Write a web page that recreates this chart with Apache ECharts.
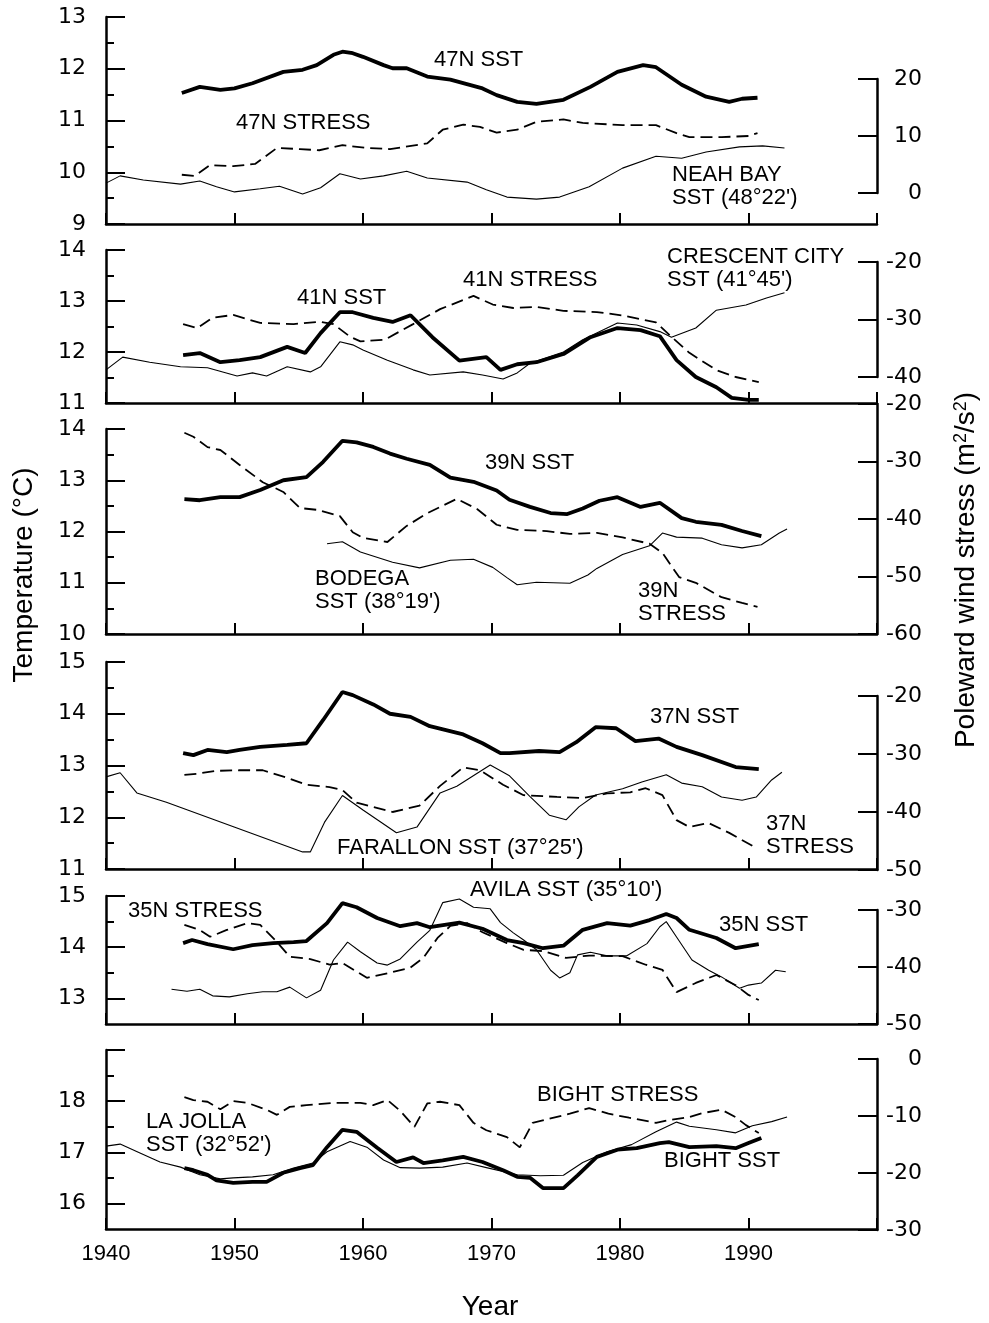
<!DOCTYPE html>
<html><head><meta charset="utf-8">
<script src="https://cdn.jsdelivr.net/npm/echarts@6/dist/echarts.min.js"></script>
<style>html,body{margin:0;padding:0;background:#fff}#c{width:989px;height:1323px}</style>
</head><body><div id="c"></div>
<script>
// ---------------- DATA (year, value) ----------------
const sst47N = [[1945.9,11.53],[1947.3,11.65],[1948.9,11.59],[1950,11.62],[1951.4,11.72],[1953.8,11.94],[1955.3,11.98],[1956.4,12.07],[1957.7,12.27],[1958.4,12.33],[1959.2,12.30],[1960,12.23],[1961.6,12.07],[1962.3,12.01],[1963.4,12.01],[1965,11.85],[1966.8,11.79],[1969.3,11.62],[1970.4,11.49],[1972,11.36],[1973.5,11.32],[1975.6,11.40],[1977.7,11.65],[1979.8,11.94],[1981.8,12.07],[1982.8,12.03],[1984.8,11.69],[1986.7,11.46],[1988.5,11.36],[1989.5,11.42],[1990.7,11.44]];
const stress47N = [[1945.9,3.2],[1946.9,3.0],[1948.1,4.9],[1949.9,4.7],[1951.6,5.1],[1953.3,7.9],[1955.1,7.7],[1956.6,7.5],[1958.4,8.4],[1960.3,7.9],[1962.1,7.7],[1965,8.7],[1966.2,11.1],[1967.8,12.0],[1969.1,11.6],[1970.4,10.6],[1972,11.1],[1973.5,12.5],[1975.6,12.9],[1977.1,12.3],[1980.2,11.9],[1982.8,11.9],[1984.4,10.5],[1985.4,9.8],[1987.9,9.8],[1990,10.0],[1990.7,10.5]];
const neahBaySST = [[1940,9.79],[1941.1,9.93],[1942.9,9.85],[1945.8,9.77],[1947.3,9.83],[1948.6,9.72],[1950,9.62],[1952,9.68],[1953.5,9.73],[1955.3,9.58],[1956.7,9.70],[1958.2,9.97],[1959.8,9.87],[1961.6,9.93],[1963.4,10.02],[1965,9.89],[1968.1,9.81],[1969.6,9.66],[1971.2,9.52],[1973.5,9.48],[1975.3,9.52],[1977.6,9.72],[1980.2,10.08],[1982.8,10.31],[1984.8,10.27],[1986.7,10.39],[1989.3,10.49],[1991.1,10.51],[1992.8,10.47]];

const sst41N = [[1946,11.94],[1947.3,11.98],[1948.9,11.80],[1950.4,11.84],[1952,11.90],[1954.1,12.10],[1955.5,11.98],[1956.7,12.37],[1958.2,12.78],[1959.2,12.78],[1960.8,12.67],[1962.3,12.59],[1963.7,12.72],[1965.4,12.29],[1967.5,11.83],[1969.6,11.90],[1970.7,11.65],[1972,11.76],[1973.5,11.80],[1975.6,11.96],[1977.7,12.29],[1979.8,12.47],[1981.6,12.43],[1983.1,12.31],[1984.4,11.84],[1985.9,11.51],[1987.5,11.31],[1988.7,11.10],[1990,11.06],[1990.8,11.06]];
const stress41N = [[1946,-30.8],[1947.1,-31.5],[1948.3,-29.7],[1949.9,-29.2],[1952,-30.6],[1954.6,-30.8],[1956.7,-30.4],[1957.7,-30.8],[1959,-33.0],[1959.8,-33.8],[1961.7,-33.5],[1963.9,-30.8],[1966,-28.2],[1968.6,-25.9],[1970.1,-27.4],[1971.7,-28.0],[1973.5,-27.8],[1975.6,-28.5],[1978.2,-28.7],[1980.2,-29.3],[1982.8,-30.5],[1984,-33.0],[1985.4,-35.8],[1987.5,-38.8],[1989,-40.0],[1990.8,-40.9]];
const crescentCitySST = [[1940,11.65],[1941.3,11.90],[1943.4,11.80],[1945.8,11.71],[1947.9,11.69],[1950.2,11.53],[1951.4,11.59],[1952.5,11.53],[1954.1,11.71],[1955.9,11.61],[1956.7,11.71],[1958.2,12.20],[1959.2,12.14],[1960,12.04],[1961.9,11.84],[1963.9,11.65],[1965.2,11.55],[1967.8,11.61],[1969.3,11.55],[1970.9,11.47],[1972,11.59],[1973,11.78],[1975.6,12.00],[1977.1,12.24],[1979.8,12.57],[1981.3,12.53],[1983.1,12.40],[1984,12.29],[1985.9,12.47],[1987.5,12.82],[1989.8,12.92],[1991.4,13.06],[1992.8,13.16]];

const sst39N = [[1946.1,12.63],[1947.3,12.61],[1948.9,12.67],[1950.4,12.67],[1952,12.81],[1953.8,13.0],[1955.6,13.06],[1956.9,13.36],[1958.4,13.77],[1959.5,13.74],[1960.8,13.65],[1962.1,13.52],[1963.4,13.42],[1965.2,13.3],[1966.8,13.05],[1968.6,12.97],[1970.4,12.8],[1971.4,12.62],[1973,12.48],[1974.6,12.36],[1975.9,12.34],[1977.1,12.45],[1978.4,12.6],[1979.8,12.67],[1981.6,12.48],[1983.1,12.56],[1984.8,12.26],[1985.9,12.19],[1987.9,12.13],[1989.5,12.01],[1991,11.91]];
const stress39N = [[1946.1,-25.0],[1946.8,-25.7],[1947.9,-27.5],[1948.9,-28.0],[1950.4,-30.6],[1952.2,-33.6],[1953.8,-35.3],[1955.1,-38.1],[1956.4,-38.4],[1958.2,-39.5],[1959.2,-42.3],[1960,-43.3],[1961.9,-44.0],[1963.4,-41.2],[1965,-39.0],[1967.3,-36.5],[1968.9,-38.3],[1970.4,-41.0],[1972,-41.9],[1974.3,-42.1],[1976.1,-42.6],[1978.2,-42.4],[1980.2,-43.2],[1982.3,-44.3],[1983.3,-45.9],[1984.6,-50.1],[1985.9,-51.1],[1987.9,-53.6],[1989.5,-54.6],[1990.7,-55.3]];
const bodegaSST = [[1957.2,11.76],[1958.4,11.80],[1959.8,11.60],[1962.3,11.40],[1964.4,11.29],[1966.8,11.44],[1968.6,11.46],[1970.1,11.30],[1971.2,11.10],[1972,10.96],[1973.5,11.01],[1976.1,10.99],[1977.5,11.15],[1978.2,11.28],[1980.2,11.55],[1982.3,11.72],[1983.3,11.97],[1984.4,11.89],[1986.4,11.87],[1987.9,11.74],[1989.5,11.68],[1991,11.74],[1992.4,11.97],[1993,12.05]];

const sst37N = [[1946,13.24],[1946.8,13.20],[1947.9,13.30],[1949.4,13.26],[1950.4,13.30],[1952,13.36],[1954.1,13.40],[1955.6,13.43],[1956.9,13.88],[1958.4,14.42],[1959.2,14.36],[1960.8,14.18],[1962.1,14.0],[1963.7,13.94],[1965.2,13.76],[1967.8,13.6],[1969.3,13.43],[1970.7,13.24],[1971.4,13.24],[1973.7,13.28],[1975.3,13.26],[1976.6,13.45],[1978.1,13.74],[1979.7,13.72],[1981.2,13.47],[1983,13.52],[1984.4,13.36],[1986.4,13.20],[1989,12.97],[1990.8,12.93]];
const stress37N = [[1946.1,-33.6],[1947.1,-33.4],[1948.6,-32.9],[1950.4,-32.8],[1952.2,-32.8],[1954.1,-34.1],[1955.6,-35.3],[1957.4,-35.7],[1958.4,-36.2],[1959.5,-38.4],[1962.3,-40.0],[1964.4,-38.9],[1966,-35.5],[1967.8,-32.3],[1969.1,-32.8],[1970.9,-35.3],[1972.5,-37.1],[1975.1,-37.4],[1977.1,-37.6],[1979,-36.8],[1980.8,-36.6],[1982,-35.9],[1983.3,-37.1],[1984.4,-41.4],[1985.4,-42.6],[1986.9,-41.9],[1988.5,-43.6],[1990.6,-46.2]];
const farallonSST = [[1940,12.78],[1941.1,12.86],[1942.4,12.47],[1944.7,12.29],[1955.3,11.33],[1955.9,11.33],[1957,11.9],[1958.4,12.42],[1960,12.14],[1962.6,11.70],[1964.2,11.81],[1966,12.47],[1967.3,12.6],[1969.9,13.01],[1971.4,12.8],[1973,12.4],[1974.5,12.04],[1975.8,11.95],[1976.8,12.20],[1978.1,12.43],[1980.2,12.55],[1981.7,12.68],[1983.6,12.82],[1984.8,12.66],[1986.4,12.59],[1987.9,12.39],[1989.5,12.33],[1990.6,12.39],[1991.8,12.72],[1992.6,12.87]];

const sst35N = [[1946,14.08],[1946.7,14.14],[1947.9,14.06],[1949.9,13.96],[1951.4,14.04],[1953,14.08],[1954.6,14.10],[1955.6,14.12],[1957.2,14.47],[1958.4,14.86],[1959.5,14.78],[1961.1,14.57],[1962.9,14.41],[1964.2,14.47],[1965.2,14.39],[1967.5,14.48],[1969.3,14.36],[1971.2,14.14],[1972.5,14.08],[1974,13.98],[1975.6,14.03],[1977.1,14.34],[1979,14.47],[1980.8,14.42],[1982.3,14.53],[1983.6,14.65],[1984.4,14.57],[1985.4,14.34],[1987.5,14.18],[1989,13.98],[1990.8,14.06]];
const stress35N = [[1946.1,-32.6],[1947.3,-33.5],[1948.1,-34.7],[1949.4,-33.5],[1951,-32.3],[1952,-32.6],[1953.3,-35.6],[1954.3,-38.2],[1955.9,-38.6],[1957.4,-39.6],[1958.4,-39.3],[1960.3,-41.9],[1961.9,-41.1],[1963.7,-40.1],[1964.7,-38.4],[1965.8,-34.9],[1966.8,-32.8],[1968.1,-32.3],[1969.3,-33.9],[1971.2,-35.8],[1972.5,-37.0],[1974,-37.2],[1975.8,-38.4],[1977.6,-38.0],[1980.2,-38.1],[1982,-39.6],[1983.3,-40.5],[1984.4,-44.4],[1985.9,-42.8],[1987.5,-41.4],[1989,-43.2],[1990,-44.9],[1990.8,-45.8]];
const avilaSST = [[1945.1,13.18],[1946.3,13.14],[1947.3,13.18],[1948.3,13.05],[1949.6,13.03],[1951,13.09],[1952.2,13.13],[1953.3,13.13],[1954.3,13.22],[1955.6,13.01],[1956.7,13.16],[1957.7,13.75],[1958.8,14.10],[1959.8,13.91],[1961.1,13.69],[1961.9,13.65],[1962.9,13.77],[1964.2,14.10],[1965.2,14.33],[1966.2,14.87],[1967.5,14.94],[1968.6,14.78],[1969.9,14.75],[1970.7,14.48],[1971.7,14.28],[1972.5,14.14],[1973.5,13.95],[1974.6,13.55],[1975.3,13.40],[1976.1,13.50],[1976.7,13.85],[1977.7,13.9],[1979,13.83],[1980.5,13.83],[1982.1,14.07],[1983.1,14.4],[1983.6,14.5],[1984.4,14.2],[1985.6,13.75],[1986.9,13.55],[1987.9,13.42],[1989.3,13.20],[1990,13.26],[1991,13.30],[1992.1,13.55],[1992.9,13.52]];

const sstBight = [[1946.1,16.69],[1946.8,16.65],[1947.9,16.56],[1948.6,16.45],[1949.9,16.40],[1951.4,16.42],[1952.5,16.42],[1953.8,16.60],[1955.1,16.69],[1956.1,16.75],[1957.2,17.10],[1958.4,17.44],[1959.5,17.40],[1961.1,17.09],[1962.6,16.81],[1963.9,16.90],[1964.7,16.79],[1966.2,16.84],[1967.8,16.91],[1969.3,16.81],[1970.9,16.65],[1972,16.52],[1973,16.50],[1974,16.30],[1975.6,16.30],[1976.7,16.55],[1978.2,16.91],[1979.8,17.05],[1981.3,17.08],[1983.1,17.18],[1983.8,17.20],[1985.4,17.10],[1987.5,17.12],[1989,17.08],[1990,17.18],[1991,17.28]];
const stressBight = [[1946.1,-6.7],[1946.8,-7.2],[1947.9,-7.5],[1948.9,-8.8],[1949.9,-7.4],[1951,-7.7],[1952.5,-8.9],[1953.3,-9.8],[1954.3,-8.4],[1955.6,-8.1],[1957.7,-7.7],[1959.8,-7.7],[1960.8,-8.1],[1961.9,-7.2],[1962.9,-9.1],[1964,-11.9],[1965,-7.8],[1966,-7.5],[1967.5,-8.1],[1968.6,-11.2],[1969.6,-12.5],[1971.2,-13.7],[1972.2,-15.5],[1973.2,-11.2],[1974.6,-10.4],[1976.1,-9.6],[1977.6,-8.6],[1979.1,-9.6],[1980.7,-10.3],[1982.8,-11.2],[1983.8,-10.7],[1985.4,-10.2],[1986.4,-9.5],[1987.9,-8.9],[1989,-10.2],[1989.8,-11.6],[1990.8,-13.0]];
const laJollaSST = [[1940,17.12],[1941.1,17.16],[1942.6,16.99],[1944.2,16.81],[1945.8,16.71],[1947.3,16.56],[1948.9,16.48],[1949.9,16.50],[1951.4,16.52],[1953,16.56],[1954.6,16.69],[1956.1,16.79],[1957.2,17.01],[1959,17.21],[1960.3,17.10],[1961.6,16.85],[1962.9,16.70],[1964.4,16.69],[1966.2,16.71],[1968.1,16.79],[1969.6,16.70],[1972,16.56],[1973.8,16.54],[1975.6,16.55],[1977.1,16.80],[1979,17.01],[1980.9,17.15],[1982.8,17.40],[1984.4,17.59],[1985.4,17.51],[1987.5,17.44],[1989,17.38],[1990.3,17.52],[1991.8,17.60],[1993,17.69]];

// ---------------- TICKS ----------------
const yearTicks = [1940, 1950, 1960, 1970, 1980, 1990];
const tempMajor = [[9,10,11,12,13],[11,12,13,14],[10,11,12,13,14],[11,12,13,14,15],[13,14,15],[16,17,18,19]];
const tempLabels = [[9,10,11,12,13],[11,12,13,14],[10,11,12,13,14],[11,12,13,14,15],[13,14,15],[16,17,18]];
const tempMinor = [[9.5,10.5,11.5,12.5],[11.5,12.5,13.5],[10.5,11.5,12.5,13.5],[11.5,12.5,13.5,14.5],[13.5,14.5],[16.5,17.5,18.5]];
const tempRange = [[9,13],[11,14],[10,14],[11,15],[12.5,15],[15.5,19]];
const stressRange = [[0,20],[-40,-20],[-60,-20],[-50,-20],[-50,-30],[-30,0]];

// ---------------- LAYOUT ----------------
const leftBox  = [[17,207],[250,153],[429,205],[662,207],[896,128],[1050,179]];
const rightBox = [[79,114],[262,115],[404,230],[696,174],[910,114],[1059,171]];
const panelSeries = [
  [neahBaySST, stress47N, sst47N],
  [crescentCitySST, stress41N, sst41N],
  [bodegaSST, stress39N, sst39N],
  [farallonSST, stress37N, sst37N],
  [avilaSST, stress35N, sst35N],
  [laJollaSST, stressBight, sstBight]
];

const BLACK = '#000';
const tickFont = 'DejaVu Sans';
const textFont = 'Liberation Sans, Arial, sans-serif';

const option = {animation:false, backgroundColor:'#fff', grid:[], xAxis:[], yAxis:[], series:[], graphic:[]};

for (let i = 0; i < 6; i++) {
  option.grid.push({left:106, right:112, top:leftBox[i][0], height:leftBox[i][1]});
  option.grid.push({left:106, right:112, top:rightBox[i][0], height:rightBox[i][1]});
  const last = i === 5;
  option.xAxis.push({
    type:'value', gridIndex:2*i, min:1940, max:2000, interval:10,
    axisLine:{show:true, onZero:false, lineStyle:{color:BLACK, width:2.5}},
    axisTick:{show:true, inside:true, length:11, lineStyle:{color:BLACK, width:2}},
    axisLabel:{show:last, color:BLACK, fontFamily:textFont, fontSize:22, margin:14,
      formatter: v => (yearTicks.indexOf(v) >= 0 ? String(v) : '')},
    splitLine:{show:false}
  });
  option.xAxis.push({type:'value', gridIndex:2*i+1, min:1940, max:2000, show:false, splitLine:{show:false}});
  // major temp axis
  option.yAxis.push({
    type:'value', gridIndex:2*i, position:'left', min:tempRange[i][0], max:tempRange[i][1],
    axisLine:{show:true, onZero:false, lineStyle:{color:BLACK, width:2.5}},
    axisTick:{show:true, inside:true, length:19, lineStyle:{color:BLACK, width:2}, customValues:tempMajor[i]},
    axisLabel:{show:true, color:BLACK, fontFamily:tickFont, fontSize:22, margin:20, customValues:tempLabels[i]},
    splitLine:{show:false}
  });
  // minor temp ticks
  option.yAxis.push({
    type:'value', gridIndex:2*i, position:'left', min:tempRange[i][0], max:tempRange[i][1],
    axisLine:{show:false},
    axisTick:{show:true, inside:true, length:8, lineStyle:{color:BLACK, width:2}, customValues:tempMinor[i]},
    axisLabel:{show:false}, splitLine:{show:false}
  });
  // stress axis
  option.yAxis.push({
    type:'value', gridIndex:2*i+1, position:'right', min:stressRange[i][0], max:stressRange[i][1], interval:10,
    axisLine:{show:true, onZero:false, lineStyle:{color:BLACK, width:2.5}},
    axisTick:{show:true, inside:true, length:19, lineStyle:{color:BLACK, width:2}},
    axisLabel:{show:true, color:BLACK, fontFamily:tickFont, fontSize:22, margin:45, align:'right'},
    splitLine:{show:false}
  });
  const [coastal, stress, sst] = panelSeries[i];
  option.series.push({type:'line', xAxisIndex:2*i, yAxisIndex:3*i, data:coastal, symbol:'none', clip:false,
    lineStyle:{color:BLACK, width:1.1}});
  option.series.push({type:'line', xAxisIndex:2*i+1, yAxisIndex:3*i+2, data:stress, symbol:'none', clip:false,
    lineStyle:{color:BLACK, width:1.8, type:[12,6]}});
  option.series.push({type:'line', xAxisIndex:2*i, yAxisIndex:3*i, data:sst, symbol:'none', clip:false,
    lineStyle:{color:BLACK, width:3.8}});
}

// ---------------- ANNOTATIONS ----------------
const notes = [
  ['47N SST', 434, 60], ['47N STRESS', 236, 123], ['NEAH BAY\nSST (48°22\')', 672, 186],
  ['41N SST', 297, 298], ['41N STRESS', 463, 280], ['CRESCENT CITY\nSST (41°45\')', 667, 268],
  ['39N SST', 485, 463], ['BODEGA\nSST (38°19\')', 315, 590], ['39N\nSTRESS', 638, 602],
  ['37N SST', 650, 717], ['FARALLON SST (37°25\')', 337, 848], ['37N\nSTRESS', 766, 835],
  ['35N STRESS', 128, 911], ['AVILA SST (35°10\')', 470, 890], ['35N SST', 719, 925],
  ['LA JOLLA\nSST (32°52\')', 146, 1133], ['BIGHT STRESS', 537, 1095], ['BIGHT SST', 664, 1161]
];
notes.forEach(n => option.graphic.push({type:'text', x:n[1], y:n[2], z:100,
  style:{text:n[0], fill:BLACK, fontFamily:textFont, fontSize:22, lineHeight:23, align:'left', verticalAlign:'middle'}}));

option.graphic.push({type:'text', x:24, y:575, rotation:Math.PI/2,
  style:{text:'Temperature (°C)', fill:BLACK, fontFamily:textFont, fontSize:28, align:'center', verticalAlign:'middle'}});
option.graphic.push({type:'text', x:966, y:570, rotation:Math.PI/2,
  style:{text:'Poleward wind stress (m{s|2}/s{s|2})', fill:BLACK, fontFamily:textFont, fontSize:28, align:'center', verticalAlign:'middle',
    rich:{s:{fontSize:18, fontFamily:textFont, fill:BLACK, verticalAlign:'top', lineHeight:28}}}});
option.graphic.push({type:'text', x:490, y:1307,
  style:{text:'Year', fill:BLACK, fontFamily:textFont, fontSize:28, align:'center', verticalAlign:'middle'}});

const chart = echarts.init(document.getElementById('c'), null, {renderer:'canvas'});
chart.setOption(option);
</script></body></html>
